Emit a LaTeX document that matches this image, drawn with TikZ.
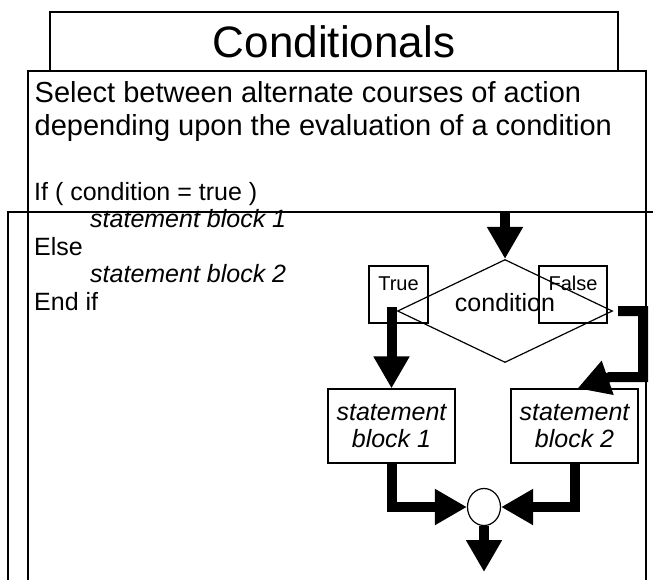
\documentclass[tikz,border=0pt]{standalone}
\usepackage{fontspec}
\setmainfont{Liberation Sans}
\usetikzlibrary{arrows.meta, positioning, calc, shapes.geometric}

\begin{document}
\begin{tikzpicture}[x=1pt, y=-1pt,
    outline/.style={draw, line width=1.2pt, inner sep=0pt},
    flow/.style={line width=10pt, -{Triangle[length=32pt, width=34pt]}},
    bigtxt/.style={font=\fontsize{29}{33}\selectfont, anchor=base west, inner sep=0pt},
    codetxt/.style={font=\fontsize{25}{27.5}\selectfont, anchor=base west, inner sep=0pt},
    tag/.style={outline, text height=24pt, text depth=33pt, font=\fontsize{20}{24}\selectfont},
    block/.style={outline, minimum width=127pt, minimum height=74pt, align=center, font=\fontsize{25}{27}\selectfont\itshape}]
    \useasboundingbox (0,0) rectangle (653,579);
    \clip (0,0) rectangle (653,579);

    % Frames
    \draw[line width=1.2pt] (28,600) |- (646,71) -- (646,600);
    \draw[line width=1.2pt] (8,600) |- (660,212);
    \node[outline, minimum width=568pt, minimum height=59pt, font=\fontsize{44}{50}\selectfont] (head) at (334,41.5) {Conditionals};

    % Left: description + pseudo code
    \node[bigtxt] (sel) at (34.5,102) {Select between alternate courses of action};
    \node[bigtxt] (dep) at (34.5,135) {depending upon the evaluation of a condition};
    \node[codetxt] (cif) at (34,200) {If ( condition = true )};
    \node[codetxt, font=\fontsize{25}{27.5}\selectfont\itshape] (sb1) at (90,227.5) {statement block 1};
    \node[codetxt] (celse) at (34,255) {Else};
    \node[codetxt, font=\fontsize{25}{27.5}\selectfont\itshape] (sb2) at (90,282.5) {statement block 2};
    \node[codetxt] (cend) at (34,310) {End if};

    % Right: flow chart
    \coordinate (entry) at (505,212);
    \node[tag, minimum width=59pt] (tbox) at (398.5,294.5) {True};
    \node[tag, minimum width=68pt] (fbox) at (573,294.5) {False};
    \node[diamond, outline, minimum width=215pt, minimum height=103pt] (cond) at (505,311) {};
    \node[font=\fontsize{25}{27.5}\selectfont, inner sep=0pt] (condtxt) at (505,303) {condition};
    \node[block] (b1) at (391.5,426) {statement\\block 1};
    \node[block] (b2) at (574.5,426) {statement\\block 2};
    \node[ellipse, outline, minimum width=33pt, minimum height=37pt] (merge) at (484,507) {};
    \coordinate (fbend) at (643,377);
    \coordinate (exit) at (484,572);

    \draw[flow] (entry) -- (cond.north);
    \draw[flow] ($(b1.north |- cond.west)+(0,-4)$) -- (b1.north);
    \draw[flow] ([xshift=5pt]cond.east) -| (fbend) -- ++(-33,0) -- ([xshift=3pt]b2.north);
    \draw[flow] (b1.south) |- (merge.west);
    \draw[flow] (b2.south) |- (merge.east);
    \draw[flow] (merge.south) -- (exit);
\end{tikzpicture}
\end{document}
